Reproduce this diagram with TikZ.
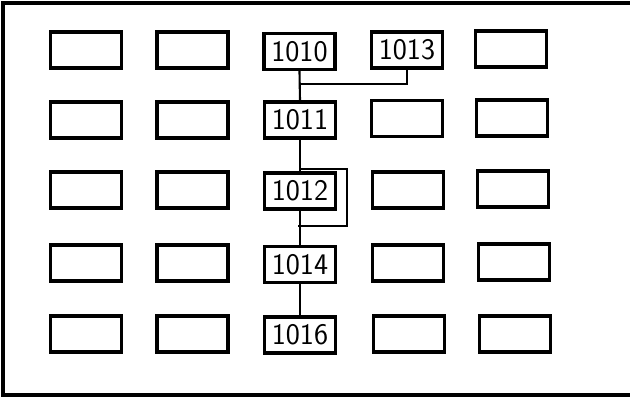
\documentclass[tikz,border=0pt]{standalone}
\usetikzlibrary{positioning, calc}

\begin{document}
\begin{tikzpicture}[
    cell/.style={draw, rectangle, line width=1.8pt, minimum width=1.42cm, minimum height=0.72cm, inner sep=0pt, font=\sffamily\fontsize{17}{17}\selectfont},
    wire/.style={line width=1.2pt}
]
\useasboundingbox (0,0) rectangle (12.6,-7.96);

% Frame
\draw[line width=2.2pt] (12.7,-0.06) -- (0.06,-0.06) -- (0.06,-7.9) -- (12.7,-7.9);

% Row 1
\node[cell] (r1c1) at (1.72,-1.0) {};
\node[cell] (r1c2) at (3.85,-1.0) {};
\node[cell] (n1010) at (5.99,-1.03) {1010};
\node[cell] (n1013) at (8.14,-1.0) {1013};
\node[cell] (r1c5) at (10.22,-0.98) {};

% Row 2
\node[cell] (r2c1) at (1.72,-2.4) {};
\node[cell] (r2c2) at (3.85,-2.4) {};
\node[cell] (n1011) at (6.0,-2.4) {1011};
\node[cell] (r2c4) at (8.14,-2.37) {};
\node[cell] (r2c5) at (10.24,-2.36) {};

% Row 3
\node[cell] (r3c1) at (1.72,-3.8) {};
\node[cell] (r3c2) at (3.85,-3.8) {};
\node[cell] (n1012) at (6.0,-3.82) {1012};
\node[cell] (r3c4) at (8.16,-3.8) {};
\node[cell] (r3c5) at (10.26,-3.78) {};

% Row 4
\node[cell] (r4c1) at (1.72,-5.26) {};
\node[cell] (r4c2) at (3.85,-5.26) {};
\node[cell] (n1014) at (6.0,-5.29) {1014};
\node[cell] (r4c4) at (8.16,-5.26) {};
\node[cell] (r4c5) at (10.28,-5.24) {};

% Row 5
\node[cell] (r5c1) at (1.72,-6.68) {};
\node[cell] (r5c2) at (3.85,-6.68) {};
\node[cell] (n1016) at (6.0,-6.7) {1016};
\node[cell] (r5c4) at (8.18,-6.68) {};
\node[cell] (r5c5) at (10.3,-6.68) {};

% Connections
\coordinate (join) at (5.99,-1.68);
\coordinate (loopin) at (6.0,-3.38);
\coordinate (loopout) at (5.96,-4.52);
\draw[wire] (n1010.south) -- (n1011.north);
\draw[wire] (n1013.south) |- (join);
\draw[wire] (n1011.south) -- (n1012.north);
\draw[wire] (n1012.south) -- (n1014.north);
\draw[wire] (n1014.south) -- (n1016.north);
\draw[wire] (loopin) -- ++(0.94,0) |- (loopout);

\end{tikzpicture}
\end{document}
